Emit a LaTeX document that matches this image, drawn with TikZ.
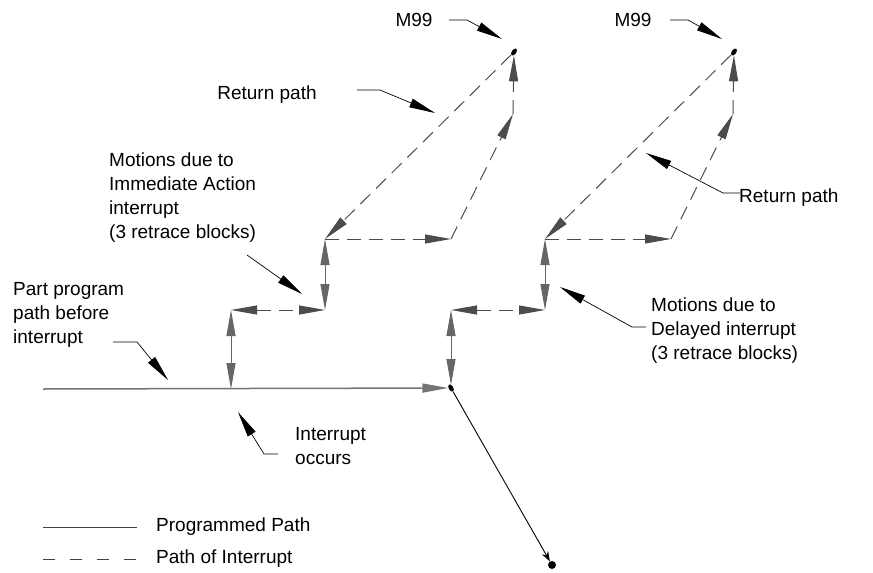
\documentclass[tikz,border=0pt]{standalone}
\usepackage{fontspec}
\setmainfont{Liberation Sans}
\usetikzlibrary{arrows.meta,shapes.geometric}

\tikzset{
  >={Triangle[length=26pt, width=9pt]},
  prog/.style={black!55, line width=1.5pt},
  retr/.style={black!60, line width=1pt},
  intr/.style={black!70, line width=1pt, dash pattern=on 14pt off 8pt},
  lead/.style={black, line width=0.7pt},
  lbl/.style={font=\fontsize{19}{24}\selectfont, align=left, inner sep=0pt},
  dot/.style={ellipse, fill=black, inner sep=0pt, minimum width=4.5pt, minimum height=8pt},
}

\begin{document}
\begin{tikzpicture}[x=1pt, y=-1pt]
  \useasboundingbox (0,0) rectangle (873,573);

  % programmed path
  \coordinate (pstart) at (43,389);
  \node[dot, rotate=30] (brk) at (451,388) {};
  \node[circle, fill=black, inner sep=0pt, minimum size=8pt] (fin) at (552,565) {};
  \draw[prog, ->] (pstart) -- (brk);
  \draw[lead, line width=0.9pt, -{Stealth[length=10pt, width=7pt]}] (brk) -- (fin);

  % interrupt motions: a = immediate action, b = delayed
  \foreach \dx/\n/\yb in {0/a/389, 220/b/385} {
    \coordinate (\n0) at (231+\dx,\yb);
    \coordinate (\n1) at (231+\dx,310);
    \coordinate (\n2) at (325+\dx,310);
    \coordinate (\n3) at (325+\dx,239);
    \coordinate (\n4) at (451+\dx,239);
    \coordinate (\n5) at (513+\dx,114);
    \node[dot, rotate=-35] (\n6) at (514+\dx,52) {};
    \draw[retr, <->] (\n0) -- (\n1);
    \draw[intr, <->] (\n1) -- (\n2);
    \draw[retr, <->] (\n2) -- (\n3);
    \draw[intr, ->] (\n3) -- (\n4);
    \draw[intr, ->] (\n4) -- (\n5);
    \draw[intr, ->] (\n5) -- (\n6);
    \draw[intr, ->] (\n6) -- (\n3);
  }

  % labels
  \node[lbl] (m99a) at (414,20) {M99};
  \node[lbl] (m99b) at (633,20) {M99};
  \node[lbl] (rpa) at (267,95) {Return path};
  \node[lbl, anchor=west] (rpb) at (739,198) {Return path};
  \node[lbl, anchor=west] (imm) at (109,198) {Motions due to\\Immediate Action\\interrupt\\(3 retrace blocks)};
  \node[lbl, anchor=west] (ppp) at (13,315) {Part program\\path before\\interrupt};
  \node[lbl, anchor=west] (occ) at (295,446) {Interrupt\\occurs};
  \node[lbl, anchor=west] (dly) at (651,331) {Motions due to\\Delayed interrupt\\(3 retrace blocks)};

  % leaders
  \coordinate (m99aS) at (449,20); \coordinate (m99aK) at (467,20); \coordinate (m99aT) at (502,39);
  \coordinate (m99bS) at (670,20); \coordinate (m99bK) at (688,20); \coordinate (m99bT) at (722,39);
  \coordinate (rpaS) at (357,90);  \coordinate (rpaK) at (380,90);  \coordinate (rpaT) at (435,113);
  \coordinate (rpbS) at (740,193); \coordinate (rpbK) at (723,193); \coordinate (rpbT) at (646,153);
  \coordinate (immS) at (247,255); \coordinate (immT) at (302,294);
  \coordinate (pppS) at (113,342); \coordinate (pppK) at (137,342); \coordinate (pppT) at (168,380);
  \coordinate (occS) at (278,454); \coordinate (occK) at (264,454); \coordinate (occT) at (238,412);
  \coordinate (dlyS) at (646,327); \coordinate (dlyK) at (632,327); \coordinate (dlyT) at (560,287);
  \draw[lead, ->] (m99aS) -- (m99aK) -- (m99aT);
  \draw[lead, ->] (m99bS) -- (m99bK) -- (m99bT);
  \draw[lead, ->] (rpaS) -- (rpaK) -- (rpaT);
  \draw[lead, ->] (rpbS) -- (rpbK) -- (rpbT);
  \draw[lead, ->] (immS) -- (immT);
  \draw[lead, ->] (pppS) -- (pppK) -- (pppT);
  \draw[lead, ->] (occS) -- (occK) -- (occT);
  \draw[lead, ->] (dlyS) -- (dlyK) -- (dlyT);

  % legend
  \coordinate (lgs0) at (43,527); \coordinate (lgs1) at (137,527);
  \coordinate (lgd0) at (43,559); \coordinate (lgd1) at (137,559);
  \draw[lead, black!75] (lgs0) -- (lgs1);
  \draw[lead, black!75, dash pattern=on 12pt off 15pt] (lgd0) -- (lgd1);
  \node[lbl, anchor=west] (lgsTxt) at (156,527) {Programmed Path};
  \node[lbl, anchor=west] (lgdTxt) at (156,559) {Path of Interrupt};
\end{tikzpicture}
\end{document}
